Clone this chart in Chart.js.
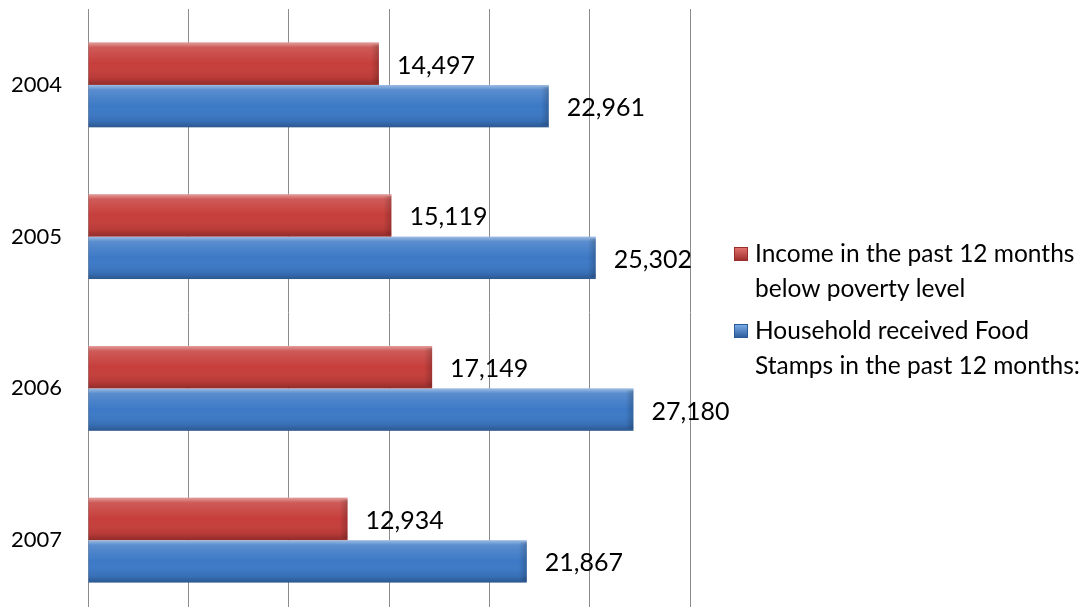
<!DOCTYPE html>
<html>
<head>
<meta charset="utf-8">
<script src="https://cdn.jsdelivr.net/npm/chart.js@4/dist/chart.umd.min.js"></script>
<style>
  html, body { margin: 0; padding: 0; background: #fff; overflow: hidden; }
  #wrap { position: relative; width: 1086px; height: 616px; }
</style>
</head>
<body>
<div id="wrap"><canvas id="myChart" width="1086" height="616"></canvas></div>
<script>
const years = ['2004', '2005', '2006', '2007'];
const povertyValues = [14497, 15119, 17149, 12934];
const foodStampValues = [22961, 25302, 27180, 21867];
const povertyLabel = ['Income in the past 12 months', 'below poverty level'];
const foodStampLabel = ['Household received Food', 'Stamps in the past 12 months:'];

const fontFamily = 'Lato, "Open Sans", sans-serif';

// glossy look on top of each bar
const shinePlugin = {
  id: 'shine',
  afterDatasetsDraw(chart) {
    const ctx = chart.ctx;
    chart.data.datasets.forEach(function(ds, i) {
      const meta = chart.getDatasetMeta(i);
      meta.data.forEach(function(bar) {
        const top = bar.y - bar.height / 2;
        const bottom = bar.y + bar.height / 2;
        const left = bar.base;
        const right = bar.x;
        const g = ctx.createLinearGradient(0, top, 0, bottom);
        g.addColorStop(0, 'rgba(255,255,255,0.5)');
        g.addColorStop(0.12, 'rgba(255,255,255,0.15)');
        g.addColorStop(0.5, 'rgba(255,255,255,0)');
        g.addColorStop(0.85, 'rgba(0,0,0,0.08)');
        g.addColorStop(1, 'rgba(0,0,0,0.28)');
        ctx.save();
        ctx.fillStyle = g;
        ctx.fillRect(left, top, right - left, bottom - top);
        // darker right end cap
        const e = ctx.createLinearGradient(right - 8, 0, right, 0);
        e.addColorStop(0, 'rgba(0,0,0,0)');
        e.addColorStop(1, 'rgba(0,0,0,0.2)');
        ctx.fillStyle = e;
        ctx.fillRect(right - 8, top + 2, 8, bottom - top - 4);
        ctx.restore();
      });
    });
  }
};

const valueLabelPlugin = {
  id: 'valueLabels',
  afterDatasetsDraw(chart) {
    const ctx = chart.ctx;
    ctx.save();
    ctx.fillStyle = '#000';
    ctx.font = '25px ' + fontFamily;
    ctx.textAlign = 'left';
    ctx.textBaseline = 'middle';
    chart.data.datasets.forEach(function(ds, i) {
      chart.getDatasetMeta(i).data.forEach(function(bar, j) {
        ctx.fillText(ds.data[j].toLocaleString('en-US'), bar.x + 18, bar.y + 2);
      });
    });
    ctx.restore();
  }
};

const sideLegendPlugin = {
  id: 'sideLegend',
  afterDraw(chart) {
    const ctx = chart.ctx;
    const x = chart.chartArea.right + 44;
    let y = 254;
    ctx.save();
    ctx.font = '24.5px ' + fontFamily;
    ctx.textBaseline = 'middle';
    chart.data.datasets.forEach(function(ds) {
      const g = ctx.createLinearGradient(0, y - 7, 0, y + 7);
      g.addColorStop(0, ds.lightColor);
      g.addColorStop(1, ds.borderColor);
      ctx.fillStyle = g;
      ctx.fillRect(x, y - 7, 14, 14);
      ctx.strokeStyle = ds.borderColor;
      ctx.lineWidth = 1;
      ctx.strokeRect(x + 0.5, y - 6.5, 13, 13);
      ctx.fillStyle = '#000';
      ds.legendLines.forEach(function(line, k) {
        ctx.fillText(line, x + 21, y + k * 35);
      });
      y += ds.legendLines.length * 35 + 7;
    });
    ctx.restore();
  }
};

const ctx = document.querySelector('#myChart').getContext('2d');

// eslint-disable-next-line no-undef
const chart = new Chart(ctx, {
  type: 'bar',
  data: {
    labels: years,
    datasets: [{
      label: povertyLabel.join(' '),
      legendLines: povertyLabel,
      data: povertyValues,
      backgroundColor: '#C63E3B',
      borderColor: '#9A2C2A',
      lightColor: '#E57570',
      borderWidth: 0,
    },
    {
      label: foodStampLabel.join(' '),
      legendLines: foodStampLabel,
      data: foodStampValues,
      backgroundColor: '#3C79C6',
      borderColor: '#2B5A98',
      lightColor: '#7DB0EA',
      borderWidth: 0,
    }]
  },
  options: {
    indexAxis: 'y',
    responsive: false,
    maintainAspectRatio: false,
    animation: false,
    layout: { padding: { left: 0, right: 396, top: 9, bottom: 0 } },
    datasets: {
      bar: { barPercentage: 1, categoryPercentage: 0.56 }
    },
    scales: {
      x: {
        min: 0,
        max: 30000,
        ticks: { stepSize: 5000, display: false },
        grid: { color: '#8c8c8c', lineWidth: 1, drawTicks: false },
        border: { display: false },
        afterFit(scale) {
          scale.height = 0;
          scale.paddingLeft = 0;
          scale.paddingRight = 0;
        },
      },
      y: {
        grid: { display: false },
        border: { display: true, color: '#8c8c8c' },
        ticks: { color: '#000', padding: 18, font: { size: 22, family: fontFamily } },
        afterFit(scale) {
          scale.width = 88;
          scale.paddingTop = 0;
          scale.paddingBottom = 0;
        },
      }
    },
    plugins: {
      legend: { display: false },
      tooltip: { enabled: false },
    }
  },
  plugins: [shinePlugin, valueLabelPlugin, sideLegendPlugin],
});
</script>
</body>
</html>
